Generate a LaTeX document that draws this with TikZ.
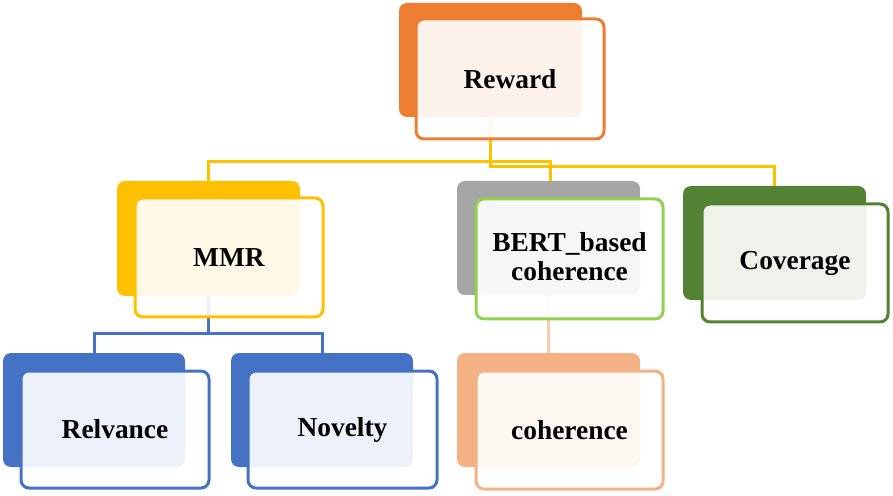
\documentclass[tikz,border=0pt]{standalone}
\usepackage{fontspec}
\setmainfont{Liberation Serif}
\usetikzlibrary{fit}
\definecolor{rwOrange}{HTML}{ED7D31}
\definecolor{mmrYellow}{HTML}{FFC000}
\definecolor{bertGrey}{HTML}{A5A5A5}
\definecolor{bertLime}{HTML}{92D050}
\definecolor{covGreen}{HTML}{548235}
\definecolor{subBlue}{HTML}{4472C4}
\definecolor{cohPeach}{HTML}{F4B183}
\definecolor{cohLine}{HTML}{F8CBAD}
\tikzset{
  backbox/.style={rounded corners=4pt, fill=#1, inner sep=0pt, outer sep=0pt},
  frontbox/.style={rounded corners=4pt, draw=#1, line width=1.5pt, fill=white,
    fill opacity=0.9, inner sep=0pt, outer sep=0pt},
  boxtext/.style={align=center, inner sep=0pt, font=\bfseries\fontsize{13.7}{14.5}\selectfont},
  link/.style={draw=#1, line width=1.5pt},
}
\begin{document}
\begin{tikzpicture}[x=0.5pt,y=-0.5pt]
\useasboundingbox (0,0) rectangle (893,496);
%back boxes
\node[backbox=rwOrange, fit={(399,3) (582,117)}] (rwback) {};
\node[backbox=mmrYellow, fit={(117,181) (300,296)}] (mmrback) {};
\node[backbox=bertGrey, fit={(457,181) (640,295)}] (bertback) {};
\node[backbox=covGreen, fit={(683,186) (866,300)}] (covback) {};
\node[backbox=subBlue, fit={(3,353) (185,467)}] (relback) {};
\node[backbox=subBlue, fit={(231,353) (413,467)}] (novback) {};
\node[backbox=cohPeach, fit={(457,353) (640,467)}] (cohback) {};
%links
\draw[link=mmrYellow] (rwback.south) -- ++(0,45) -| (mmrback.north);
\draw[link=mmrYellow] (rwback.south) -- ++(0,45) -| ([xshift=0.75pt]bertback.north);
\draw[link=mmrYellow] (rwback.south) -- ++(0,50) -| (covback.north);
\draw[link=subBlue] (mmrback.south) -- ++(0,38) -| (relback.north);
\draw[link=subBlue] (mmrback.south) -- ++(0,38) -| (novback.north);
\draw[link=cohLine] (bertback.south) -- (cohback.north);
%front boxes
\node[frontbox=rwOrange, fit={(416,19) (604,139)}] (reward) {};
\node[frontbox=mmrYellow, fit={(135,198) (323,317)}] (mmr) {};
\node[frontbox=bertLime, fit={(476,199) (663,319)}] (bert) {};
\node[frontbox=covGreen, fit={(702,204) (888,322)}] (coverage) {};
\node[frontbox=subBlue, fit={(21,371) (209,488)}] (relvance) {};
\node[frontbox=subBlue, fit={(248,371) (437,488)}] (novelty) {};
\node[frontbox=cohPeach, fit={(476,371) (663,489)}] (coherence) {};
%labels
\node[boxtext] (rewardtxt) at (reward.center) {Reward};
\node[boxtext] (mmrtxt) at (mmr.center) {MMR};
\node[boxtext] (berttxt) at ([yshift=1pt]bert.center) {BERT\_based\\coherence};
\node[boxtext] (covtxt) at (coverage.center) {Coverage};
\node[boxtext] (reltxt) at (relvance.center) {Relvance};
\node[boxtext] (novtxt) at (novelty.center) {Novelty};
\node[boxtext] (cohtxt) at (coherence.center) {coherence};
\end{tikzpicture}
\end{document}
